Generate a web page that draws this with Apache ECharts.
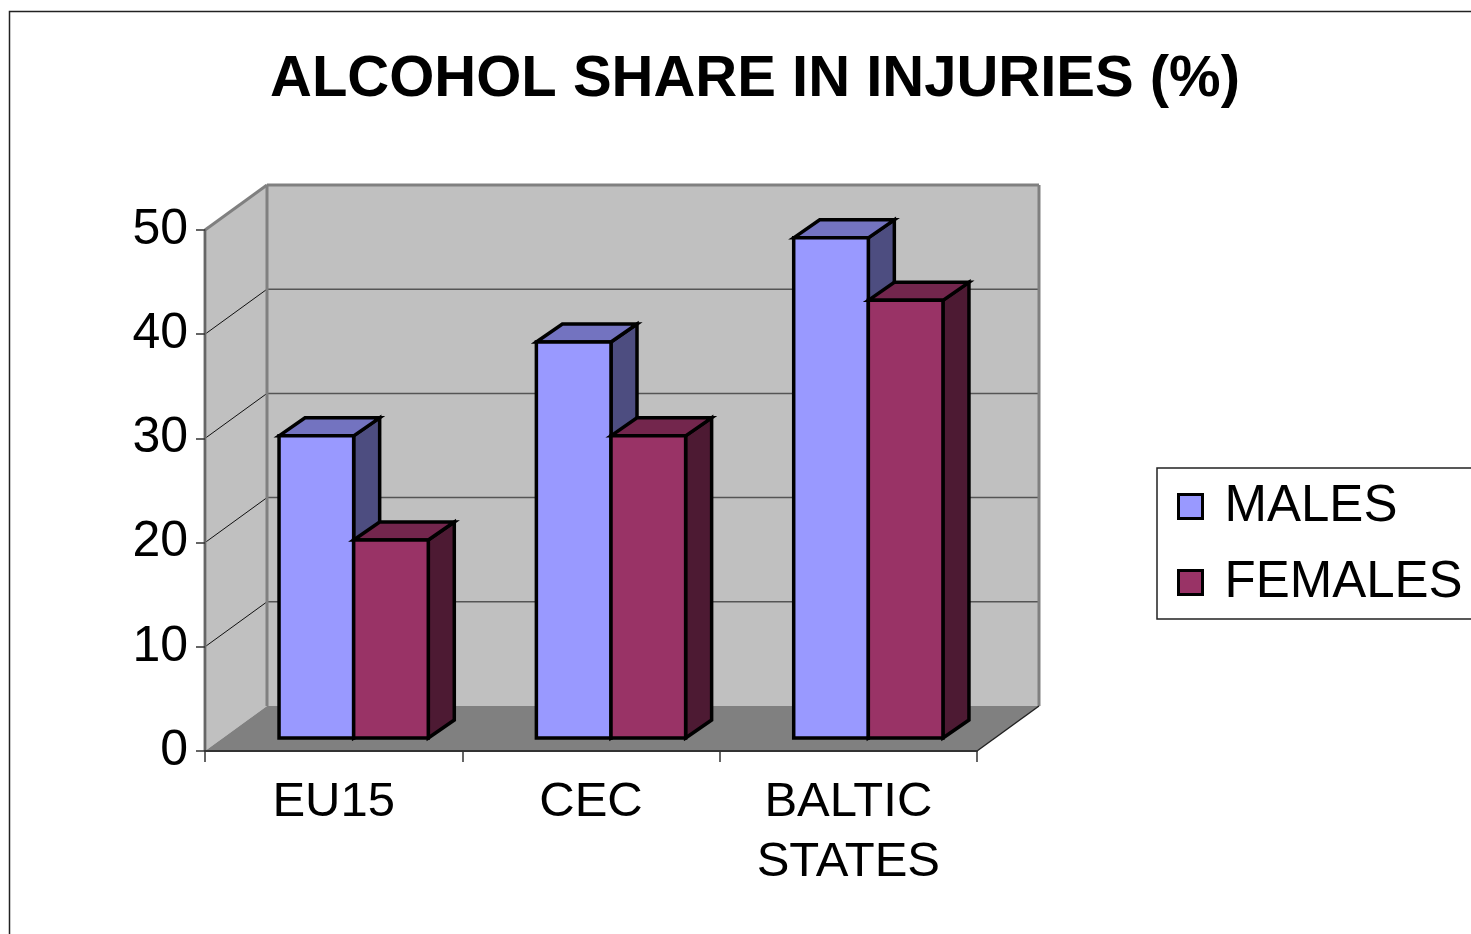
<!DOCTYPE html>
<html><head><meta charset="utf-8">
<script src="https://cdn.jsdelivr.net/npm/echarts@6/dist/echarts.min.js"></script>
<style>html,body{margin:0;padding:0;background:#fff}#c{width:1471px;height:934px}</style>
</head><body><div id="c"></div>
<script>
const categories = ['EU15', 'CEC', 'BALTIC\nSTATES'];
const males = [29, 38, 48];
const females = [19, 29, 42];
const yTicks = [0, 10, 20, 30, 40, 50];

const chart = echarts.init(document.getElementById('c'), null, {renderer: 'canvas'});
const DEPTH = [62, -45];
const BAR_SHIFT = [20, -13];
const BAR_DEPTH = [26, -18];
const BAR_RATIO = 0.29;
const FONT = 'Liberation Sans';

function line(x1, y1, x2, y2, color, w) {
  return {type: 'line', shape: {x1: x1, y1: y1, x2: x2, y2: y2}, style: {stroke: color, lineWidth: w}};
}

function wallsRender(params, api) {
  const cs = params.coordSys;
  const x0 = cs.x, x1 = cs.x + cs.width;
  const yTop = api.coord([0, yTicks[yTicks.length - 1]])[1];
  const yBot = api.coord([0, yTicks[0]])[1];
  const dx = DEPTH[0], dy = DEPTH[1];
  const ch = [];
  ch.push({type: 'polygon', shape: {points: [[x0 + dx, yTop + dy], [x1 + dx, yTop + dy], [x1 + dx, yBot + dy], [x0 + dx, yBot + dy]]}, style: {fill: '#C0C0C0'}});
  ch.push({type: 'polygon', shape: {points: [[x0, yTop], [x0 + dx, yTop + dy], [x0 + dx, yBot + dy], [x0, yBot]]}, style: {fill: '#C0C0C0'}});
  yTicks.forEach(function (v, i) {
    if (i === 0 || i === yTicks.length - 1) return;
    const y = api.coord([0, v])[1];
    ch.push(line(x0 + dx, y + dy, x1 + dx, y + dy, '#555', 1.5));
    ch.push(line(x0, y, x0 + dx, y + dy, '#111', 1));
  });
  ch.push({type: 'polygon', shape: {points: [[x0, yBot], [x1, yBot], [x1 + dx, yBot + dy], [x0 + dx, yBot + dy]]}, style: {fill: '#808080'}});
  ch.push(line(x0 + dx, yTop + dy, x0 + dx, yBot + dy, '#808080', 3));
  ch.push(line(x0 + dx, yTop + dy, x1 + dx, yTop + dy, '#808080', 3));
  ch.push(line(x1 + dx, yTop + dy, x1 + dx, yBot + dy, '#808080', 3));
  ch.push(line(x0, yTop, x0 + dx, yTop + dy, '#808080', 3));
  ch.push(line(x0, yTop, x0, yBot, '#808080', 3));
  ch.push(line(x1, yBot, x1 + dx, yBot + dy, '#222', 1.5));
  return {type: 'group', children: ch};
}

function makeBar(idx, colors) {
  return function (params, api) {
    const ci = api.value(0), v = api.value(1);
    const base = api.coord([ci, 0]);
    const top = api.coord([ci, v]);
    const bw = api.size([1, 0])[0] * BAR_RATIO;
    const cx = base[0] + BAR_SHIFT[0];
    const xl = idx === 0 ? cx - bw : cx;
    const xr = xl + bw;
    const yb = base[1] + BAR_SHIFT[1];
    const yt = top[1] + BAR_SHIFT[1];
    const dx = BAR_DEPTH[0], dy = BAR_DEPTH[1];
    const st = {stroke: '#000', lineWidth: 3.5, lineJoin: 'miter'};
    return {type: 'group', children: [
      {type: 'polygon', shape: {points: [[xr, yb], [xr + dx, yb + dy], [xr + dx, yt + dy], [xr, yt]]}, style: Object.assign({fill: colors.side}, st)},
      {type: 'polygon', shape: {points: [[xl, yt], [xl + dx, yt + dy], [xr + dx, yt + dy], [xr, yt]]}, style: Object.assign({fill: colors.top}, st)},
      {type: 'rect', shape: {x: xl, y: yt, width: bw, height: yb - yt}, style: Object.assign({fill: colors.front}, st)}
    ]};
  };
}

const maleColors = {front: '#9999FF', top: '#7373C0', side: '#4D4D80'};
const femaleColors = {front: '#993366', top: '#73264D', side: '#4D1A33'};

chart.setOption({
  animation: false,
  backgroundColor: '#fff',
  title: {
    text: 'ALCOHOL SHARE IN INJURIES (%)',
    left: 750, top: 46, textAlign: 'center',
    textStyle: {fontSize: 58, fontWeight: 'bold', fontFamily: FONT, color: '#000'}
  },
  legend: {
    orient: 'vertical', left: 1157, top: 468,
    padding: [13, 40, 11, 20], itemGap: 25,
    itemWidth: 24, itemHeight: 24, icon: 'rect',
    borderColor: '#222', borderWidth: 1.5,
    textStyle: {fontSize: 51, fontFamily: FONT, color: '#000', lineHeight: 50, padding: [0, 0, 0, 17]},
    data: [
      {name: 'MALES', itemStyle: {color: maleColors.front, borderColor: '#000', borderWidth: 3}},
      {name: 'FEMALES', itemStyle: {color: femaleColors.front, borderColor: '#000', borderWidth: 3}}
    ]
  },
  grid: {left: 205, top: 230, width: 772, height: 521, containLabel: false},
  xAxis: {
    type: 'category', data: categories, boundaryGap: true, z: 5,
    axisLine: {show: true, lineStyle: {color: '#333', width: 2}},
    axisTick: {show: true, length: 11, lineStyle: {color: '#333', width: 1.5}},
    axisLabel: {fontSize: 49, fontFamily: FONT, color: '#000', margin: 21, lineHeight: 60, interval: 0},
    splitLine: {show: false}
  },
  yAxis: {
    type: 'value', min: 0, max: 50, interval: 10, z: 5,
    axisLine: {show: true, lineStyle: {color: '#666', width: 2}},
    axisTick: {show: true, length: 9, lineStyle: {color: '#333', width: 1.5}},
    axisLabel: {fontSize: 50, fontFamily: FONT, color: '#000', margin: 17},
    splitLine: {show: false}
  },
  graphic: [{
    type: 'rect', shape: {x: 9.5, y: 11.5, width: 1600, height: 1100},
    style: {fill: 'none', stroke: '#222', lineWidth: 1.5}, silent: true
  }],
  series: [
    {type: 'custom', name: 'walls', data: [[0, 0]], renderItem: wallsRender, z: 1, silent: true, clip: false},
    {type: 'custom', name: 'MALES', data: males.map(function (v, i) { return [i, v]; }), renderItem: makeBar(0, maleColors), z: 2, itemStyle: {color: maleColors.front}},
    {type: 'custom', name: 'FEMALES', data: females.map(function (v, i) { return [i, v]; }), renderItem: makeBar(1, femaleColors), z: 2, itemStyle: {color: femaleColors.front}}
  ]
});
</script>
</body></html>
